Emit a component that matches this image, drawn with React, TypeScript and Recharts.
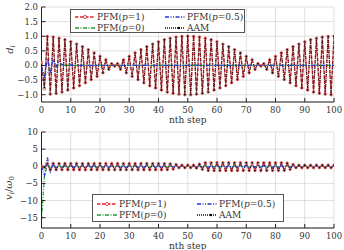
import React from "react";
import { LineChart, Line, XAxis, YAxis, CartesianGrid } from "recharts";

// step index 0..100
const steps = Array.from({ length: 101 }, (_, i) => i);

// displacement d_i
const dPfm1 = [
  0.1, -0.8, 0.99, -0.98, 0.97, -0.95, 0.93, -0.91, 0.88, -0.84,
  0.81, -0.77, 0.73, -0.69, 0.64, -0.59, 0.54, -0.48, 0.43, -0.37,
  0.31, -0.25, 0.19, -0.13, 0.06, -0.02, 0.06, -0.13, 0.19, -0.25,
  0.31, -0.37, 0.43, -0.48, 0.54, -0.59, 0.64, -0.69, 0.73, -0.77,
  0.81, -0.84, 0.88, -0.91, 0.93, -0.95, 0.97, -0.98, 0.99, -1.0,
  1.0, -1.0, 0.99, -0.98, 0.97, -0.95, 0.93, -0.91, 0.88, -0.84,
  0.81, -0.77, 0.73, -0.69, 0.64, -0.59, 0.54, -0.48, 0.43, -0.37,
  0.31, -0.25, 0.19, -0.13, 0.06, -0.02, 0.06, -0.13, 0.19, -0.25,
  0.31, -0.37, 0.43, -0.48, 0.54, -0.59, 0.64, -0.69, 0.73, -0.77,
  0.81, -0.84, 0.88, -0.91, 0.93, -0.95, 0.97, -0.98, 0.99, -1.0,
  1.0,
];
const dAam = [
  0.0, -0.75, 0.99, -0.98, 0.97, -0.95, 0.93, -0.91, 0.88, -0.84,
  0.81, -0.77, 0.73, -0.69, 0.64, -0.59, 0.54, -0.48, 0.43, -0.37,
  0.31, -0.25, 0.19, -0.13, 0.06, -0.02, 0.06, -0.13, 0.19, -0.25,
  0.31, -0.37, 0.43, -0.48, 0.54, -0.59, 0.64, -0.69, 0.73, -0.77,
  0.81, -0.84, 0.88, -0.91, 0.93, -0.95, 0.97, -0.98, 0.99, -1.0,
  1.0, -1.0, 0.99, -0.98, 0.97, -0.95, 0.93, -0.91, 0.88, -0.84,
  0.81, -0.77, 0.73, -0.69, 0.64, -0.59, 0.54, -0.48, 0.43, -0.37,
  0.31, -0.25, 0.19, -0.13, 0.06, -0.02, 0.06, -0.13, 0.19, -0.25,
  0.31, -0.37, 0.43, -0.48, 0.54, -0.59, 0.64, -0.69, 0.73, -0.77,
  0.81, -0.84, 0.88, -0.91, 0.93, -0.95, 0.97, -0.98, 0.99, -1.0,
  1.0,
];
const dPfm0 = [
  -0.05, -0.35, -0.25, -0.12, -0.05, 0.02, 0, 0, 0, 0,
  0, 0, 0, 0, 0, 0, 0, 0, 0, 0,
  0, 0, 0, 0, 0, 0, 0, 0, 0, 0,
  0, 0, 0, 0, 0, 0, 0, 0, 0, 0,
  0, 0, 0, 0, 0, 0, 0, 0, 0, 0,
  0, 0, 0, 0, 0, 0, 0, 0, 0, 0,
  0, 0, 0, 0, 0, 0, 0, 0, 0, 0,
  0, 0, 0, 0, 0, 0, 0, 0, 0, 0,
  0, 0, 0, 0, 0, 0, 0, 0, 0, 0,
  0, 0, 0, 0, 0, 0, 0, 0, 0, 0,
  0,
];
const dPfmHalf = [
  -0.05, -0.4, 0.22, -0.25, 0.2, -0.05, 0.15, 0.02, 0.06, 0,
  0.02, 0, 0, 0, 0, 0, 0, 0, 0, 0,
  0, 0, 0, 0, 0, 0, 0, 0, 0, 0,
  0, 0, 0, 0, 0, 0, 0, 0, 0, 0,
  0, 0, 0, 0, 0, 0, 0, 0, 0, 0,
  0, 0, 0, 0, 0, 0, 0, 0, 0, 0,
  0, 0, 0, 0, 0, 0, 0, 0, 0, 0,
  0, 0, 0, 0, 0, 0, 0, 0, 0, 0,
  0, 0, 0, 0, 0, 0, 0, 0, 0, 0,
  0, 0, 0, 0, 0, 0, 0, 0, 0, 0,
  0,
];

// velocity v_i / ω0
const vPfm1 = [
  0, -0.5, 0.8, -1.0, 0.85, -1.0, 0.8, -0.95, 0.8, -1.0,
  0.8, -1.0, 0.85, -1.0, 0.8, -1.0, 0.8, -0.95, 0.8, -1.0,
  0.8, -1.0, 0.8, -1.0, 0.85, -1.0, 0.8, -1.0, 0.8, -0.95,
  0.8, -1.0, 0.8, -1.0, 0.8, -1.0, 0.85, -1.0, 0.8, -1.0,
  0.8, -1.0, 0.75, -0.95, 0.7, -0.8, 0.5, -0.4, 0.3, -0.4,
  0.3, -0.4, 0.3, -0.5, 0.6, -0.9, 1.0, -1.2, 1.0, -1.2,
  1.05, -1.2, 1.0, -1.2, 1.0, -1.25, 1.0, -1.2, 1.05, -1.2,
  1.0, -1.2, 1.0, -1.2, 1.0, -1.25, 1.0, -1.2, 1.0, -1.2,
  1.0, -1.2, 1.0, -1.15, 0.9, -0.9, 0.5, -0.4, 0.3, -0.4,
  0.3, -0.4, 0.3, -0.4, 0.3, -0.4, 0.3, -0.4, 0.3, -0.4,
  0.3,
];
const vAam = [
  0, -0.3, 0.8, -1.0, 0.8, -1.0, 0.8, -1.0, 0.8, -1.0,
  0.8, -1.0, 0.8, -1.0, 0.8, -1.0, 0.8, -1.0, 0.8, -1.0,
  0.8, -1.0, 0.8, -1.0, 0.8, -1.0, 0.8, -1.0, 0.8, -1.0,
  0.8, -1.0, 0.8, -1.0, 0.8, -1.0, 0.8, -1.0, 0.8, -1.0,
  0.8, -1.0, 0.75, -0.95, 0.7, -0.8, 0.5, -0.4, 0.3, -0.4,
  0.3, -0.4, 0.3, -0.5, 0.6, -0.9, 1.0, -1.2, 1.0, -1.2,
  1.0, -1.2, 1.0, -1.2, 1.0, -1.2, 1.0, -1.2, 1.0, -1.2,
  1.0, -1.2, 1.0, -1.2, 1.0, -1.2, 1.0, -1.2, 1.0, -1.2,
  1.0, -1.2, 1.0, -1.15, 0.9, -0.9, 0.5, -0.4, 0.3, -0.4,
  0.3, -0.4, 0.3, -0.4, 0.3, -0.4, 0.3, -0.4, 0.3, -0.4,
  0.3,
];
const vPfm0 = [
  -15.5, -3.0, 0.5, -0.6, 0.3, -0.3, 0.2, -0.3, 0.2, -0.3,
  0.2, -0.3, 0.2, -0.3, 0.2, -0.3, 0.2, -0.3, 0.2, -0.3,
  0.2, -0.3, 0.2, -0.3, 0.2, -0.3, 0.2, -0.3, 0.2, -0.3,
  0.2, -0.3, 0.2, -0.3, 0.2, -0.3, 0.2, -0.3, 0.2, -0.3,
  0.2, -0.3, 0.2, -0.3, 0.2, -0.3, 0.2, -0.3, 0.2, -0.3,
  0.2, -0.3, 0.2, -0.3, 0.2, -0.3, 0.2, -0.3, 0.2, -0.3,
  0.2, -0.3, 0.2, -0.3, 0.2, -0.3, 0.2, -0.3, 0.2, -0.3,
  0.2, -0.3, 0.2, -0.3, 0.2, -0.3, 0.2, -0.3, 0.2, -0.3,
  0.2, -0.3, 0.2, -0.3, 0.2, -0.3, 0.2, -0.3, 0.2, -0.3,
  0.2, -0.3, 0.2, -0.3, 0.2, -0.3, 0.2, -0.3, 0.2, -0.3,
  0.2,
];
const vPfmHalf = [
  0, -3.0, 2.8, -2.0, 1.0, -0.6, 0.4, -0.3, 0.2, -0.3,
  0.2, -0.3, 0.2, -0.3, 0.2, -0.3, 0.2, -0.3, 0.2, -0.3,
  0.2, -0.3, 0.2, -0.3, 0.2, -0.3, 0.2, -0.3, 0.2, -0.3,
  0.2, -0.3, 0.2, -0.3, 0.2, -0.3, 0.2, -0.3, 0.2, -0.3,
  0.2, -0.3, 0.2, -0.3, 0.2, -0.3, 0.2, -0.3, 0.2, -0.3,
  0.2, -0.3, 0.2, -0.3, 0.2, -0.3, 0.2, -0.3, 0.2, -0.3,
  0.2, -0.3, 0.2, -0.3, 0.2, -0.3, 0.2, -0.3, 0.2, -0.3,
  0.2, -0.3, 0.2, -0.3, 0.2, -0.3, 0.2, -0.3, 0.2, -0.3,
  0.2, -0.3, 0.2, -0.3, 0.2, -0.3, 0.2, -0.3, 0.2, -0.3,
  0.2, -0.3, 0.2, -0.3, 0.2, -0.3, 0.2, -0.3, 0.2, -0.3,
  0.2,
];

const xTicks = [0, 10, 20, 30, 40, 50, 60, 70, 80, 90, 100];
const dTicks = [-1, -0.5, 0, 0.5, 1, 1.5, 2];
const vTicks = [-15, -10, -5, 0, 5, 10];

const FONT = "'DejaVu Serif', serif";
const INK = "#333";

type SeriesDef = {
  key: "pfm1" | "pfm0" | "pfmHalf" | "aam";
  p?: string;
  color: string;
  dash: string;
  width: number;
  dot: "open" | "filled" | null;
};

// drawing order: red first, black dotted on top of it, then green and blue
const seriesDefs: SeriesDef[] = [
  { key: "pfm1", p: "1", color: "#e0262c", dash: "3.5 1.5", width: 1.4, dot: "open" },
  { key: "aam", color: "#111", dash: "1 1", width: 0.9, dot: "filled" },
  { key: "pfm0", p: "0", color: "#1e9a34", dash: "4 1.5 1 1.5", width: 1.2, dot: null },
  { key: "pfmHalf", p: "0.5", color: "#2a36d8", dash: "4 1.5 1 1.5 1 1.5", width: 1.2, dot: null },
];
const byKey = Object.fromEntries(seriesDefs.map((s) => [s.key, s])) as Record<string, SeriesDef>;

const dRows = steps.map((n, i) => ({
  n,
  pfm1: dPfm1[i],
  pfm0: dPfm0[i],
  pfmHalf: dPfmHalf[i],
  aam: dAam[i],
}));
const vRows = steps.map((n, i) => ({
  n,
  pfm1: vPfm1[i],
  pfm0: vPfm0[i],
  pfmHalf: vPfmHalf[i],
  aam: vAam[i],
}));

const minus = (s: string) => s.replace("-", "\u2212");
const fmtD = (v: number) => minus(v.toFixed(1));
const fmtV = (v: number) => minus(String(v));
const blank = () => "";

function DTitle({ viewBox }: any) {
  const cx = viewBox.x + 13;
  const cy = viewBox.y + viewBox.height / 2 - 5;
  return (
    <text transform={`translate(${cx},${cy}) rotate(-90)`} textAnchor="middle" fontFamily={FONT} fontSize={10} fill={INK}>
      <tspan fontStyle="italic">d</tspan>
      <tspan fontStyle="italic" fontSize={7} dy={2}>i</tspan>
    </text>
  );
}

function VTitle({ viewBox }: any) {
  const cx = viewBox.x + 12;
  const cy = viewBox.y + viewBox.height / 2 + 8;
  return (
    <text transform={`translate(${cx},${cy}) rotate(-90)`} textAnchor="middle" fontFamily={FONT} fontSize={10} fill={INK}>
      <tspan fontStyle="italic">v</tspan>
      <tspan fontStyle="italic" fontSize={7} dy={2}>i</tspan>
      <tspan dy={-2}>/</tspan>
      <tspan fontStyle="italic">ω</tspan>
      <tspan fontSize={7} dy={2}>0</tspan>
    </text>
  );
}

type PanelProps = {
  rows: typeof dRows;
  domain: [number, number];
  yTicks: number[];
  fmt: (v: number) => string;
  title: React.ReactElement;
  xHeight: number;
  labelOffset: number;
};

function Panel({ rows, domain, yTicks, fmt, title, xHeight, labelOffset }: PanelProps) {
  const tick = { fontSize: 8.5, fill: INK, fontFamily: FONT };
  const frame = { stroke: "#222", strokeWidth: 1 };
  return (
    <LineChart width={344} height={125} data={rows} margin={{ top: 7, right: 10, bottom: 0, left: 0 }}>
      <CartesianGrid stroke="#d2d2d2" strokeWidth={0.7} />
      <XAxis
        dataKey="n"
        type="number"
        domain={[0, 100]}
        ticks={xTicks}
        interval={0}
        height={xHeight}
        tickSize={-4}
        tickMargin={9}
        axisLine={frame}
        tickLine={frame}
        tick={tick}
        allowDataOverflow
        label={{
          value: "nth step",
          position: "insideBottom",
          offset: labelOffset,
          style: { fontFamily: FONT, fontSize: 9, fill: INK },
        }}
      />
      <XAxis
        xAxisId="top"
        orientation="top"
        dataKey="n"
        type="number"
        domain={[0, 100]}
        ticks={xTicks}
        interval={0}
        height={0}
        tickSize={-4}
        axisLine={frame}
        tickLine={frame}
        tickFormatter={blank}
        allowDataOverflow
      />
      <YAxis
        type="number"
        domain={domain}
        ticks={yTicks}
        interval={0}
        width={41.5}
        tickSize={-4}
        tickMargin={7.5}
        axisLine={frame}
        tickLine={frame}
        tick={tick}
        tickFormatter={fmt}
        allowDataOverflow
        label={title}
      />
      <YAxis
        yAxisId="right"
        orientation="right"
        type="number"
        domain={domain}
        ticks={yTicks}
        interval={0}
        width={0}
        tickSize={-4}
        axisLine={frame}
        tickLine={frame}
        tickFormatter={blank}
        allowDataOverflow
      />
      {seriesDefs.map((s) => (
        <Line
          key={s.key}
          dataKey={s.key}
          type="linear"
          stroke={s.color}
          strokeWidth={s.width}
          strokeDasharray={s.dash}
          dot={
            s.dot === "open"
              ? { r: 1.3, fill: "#fff", stroke: s.color, strokeWidth: 0.7, strokeDasharray: "none" }
              : s.dot === "filled"
              ? { r: 0.9, fill: "#000", stroke: "none", strokeDasharray: "none" }
              : false
          }
          activeDot={false}
          isAnimationActive={false}
        />
      ))}
    </LineChart>
  );
}

function Swatch({ s }: { s: SeriesDef }) {
  return (
    <svg width={20} height={6} style={{ display: "block" }}>
      <line x1={0} y1={3} x2={20} y2={3} stroke={s.color} strokeWidth={1.3} strokeDasharray={s.dash} />
      {s.dot === "open" && <circle cx={10} cy={3} r={1.6} fill="#fff" stroke={s.color} strokeWidth={0.8} />}
      {s.dot === "filled" && <circle cx={14} cy={3} r={1.2} fill="#000" />}
    </svg>
  );
}

function EntryLabel({ s }: { s: SeriesDef }) {
  if (!s.p) return <span>AAM</span>;
  return (
    <span>
      PFM(<i>p</i>={s.p})
    </span>
  );
}

type LegendBoxProps = {
  left: number;
  top: number;
  width: number;
  height: number;
  col2: number;
  rows: [number, number];
};

// two columns: PFM(p=1), PFM(p=0) | PFM(p=0.5), AAM
function LegendBox({ left, top, width, height, col2, rows }: LegendBoxProps) {
  const cols = [
    [byKey.pfm1, byKey.pfm0],
    [byKey.pfmHalf, byKey.aam],
  ];
  return (
    <div
      style={{
        position: "absolute",
        left,
        top,
        width,
        height,
        boxSizing: "border-box",
        border: "1px solid #555",
        background: "#fff",
        fontFamily: FONT,
        fontSize: 9,
        color: INK,
        lineHeight: "10px",
      }}
    >
      {cols.map((col, ci) =>
        col.map((s, ri) => (
          <div
            key={s.key}
            style={{
              position: "absolute",
              left: ci === 0 ? 4 : col2,
              top: rows[ri] - 5,
              display: "flex",
              alignItems: "center",
              gap: 2,
              whiteSpace: "nowrap",
            }}
          >
            <Swatch s={s} />
            <EntryLabel s={s} />
          </div>
        ))
      )}
    </div>
  );
}

export default function App() {
  return (
    <div style={{ position: "absolute", left: 0, top: 0, width: 344, height: 250, background: "#fff", overflow: "hidden" }}>
      <div style={{ position: "absolute", left: 0, top: 0 }}>
        <Panel rows={dRows} domain={[-1.25, 2]} yTicks={dTicks} fmt={fmtD} title={<DTitle />} xHeight={23} labelOffset={2} />
      </div>
      <div style={{ position: "absolute", left: 0, top: 125 }}>
        <Panel rows={vRows} domain={[-18, 10]} yTicks={vTicks} fmt={fmtV} title={<VTitle />} xHeight={22} labelOffset={1} />
      </div>
      <LegendBox left={70} top={9} width={175} height={24} col2={94} rows={[7, 18]} />
      <LegendBox left={92} top={194} width={192} height={28} col2={104} rows={[9, 20]} />
    </div>
  );
}
